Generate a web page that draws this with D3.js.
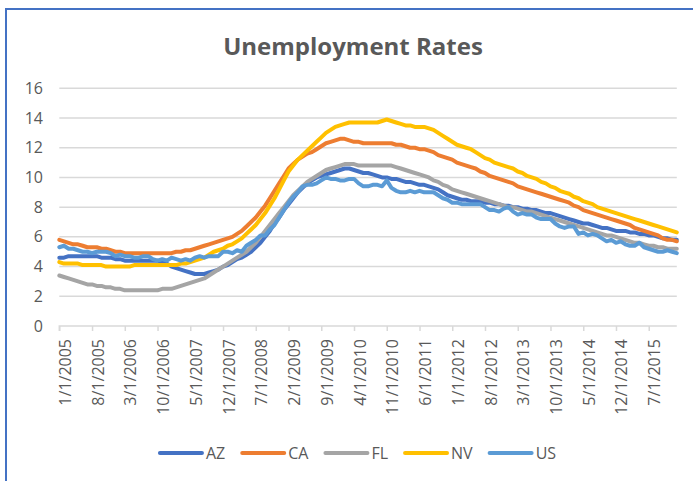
<!DOCTYPE html>
<html>
<head>
<meta charset="utf-8">
<script src="https://cdn.jsdelivr.net/npm/d3@7"></script>
<style>
  html, body { margin: 0; padding: 0; background: #fff; }
  svg text { font-family: "Open Sans", "Liberation Sans", sans-serif; fill: #595959; }
</style>
</head>
<body>
<svg id="chart"></svg>
<script>
// monthly rates, 1/2005 .. 1/2016
const seriesNames = ["AZ", "CA", "FL", "NV", "US"];
const seriesColors = ["#4472C4", "#ED7D31", "#A5A5A5", "#FFC000", "#5B9BD5"];

const az = [4.6,4.6,4.7,4.7,4.7,4.7,4.7,4.7,4.7,4.6,4.6,4.6,
  4.5,4.5,4.4,4.4,4.4,4.4,4.4,4.4,4.4,4.4,4.3,4.2,
  4.0,3.9,3.8,3.7,3.6,3.5,3.5,3.5,3.6,3.7,3.8,4.0,
  4.1,4.3,4.5,4.6,4.8,5.0,5.3,5.6,6.0,6.4,6.9,7.3,
  7.8,8.2,8.6,9.0,9.3,9.6,9.8,10.0,10.1,10.2,10.3,10.4,
  10.5,10.6,10.6,10.5,10.4,10.3,10.3,10.2,10.1,10.0,10.0,9.9,
  9.9,9.8,9.7,9.7,9.6,9.5,9.5,9.4,9.3,9.2,9.0,8.8,
  8.7,8.6,8.5,8.5,8.4,8.4,8.4,8.3,8.3,8.2,8.2,8.1,
  8.1,8.0,8.0,7.9,7.9,7.8,7.8,7.7,7.6,7.6,7.5,7.4,
  7.3,7.2,7.1,7.0,6.9,6.9,6.8,6.7,6.6,6.6,6.5,6.4,
  6.4,6.4,6.3,6.3,6.2,6.2,6.1,6.1,6.0,5.9,5.9,5.8,
  5.8];

const ca = [5.8,5.7,5.6,5.5,5.5,5.4,5.3,5.3,5.3,5.2,5.2,5.1,
  5.0,5.0,4.9,4.9,4.9,4.9,4.9,4.9,4.9,4.9,4.9,4.9,
  4.9,5.0,5.0,5.1,5.1,5.2,5.3,5.4,5.5,5.6,5.7,5.8,
  5.9,6.0,6.2,6.4,6.7,7.0,7.3,7.7,8.1,8.6,9.1,9.6,
  10.1,10.6,10.9,11.2,11.4,11.6,11.7,11.9,12.1,12.3,12.4,12.5,
  12.6,12.6,12.5,12.4,12.4,12.3,12.3,12.3,12.3,12.3,12.3,12.3,
  12.2,12.2,12.1,12.0,12.0,11.9,11.9,11.8,11.7,11.5,11.4,11.3,
  11.2,11.0,10.9,10.8,10.7,10.6,10.4,10.3,10.1,10.0,9.9,9.8,
  9.7,9.6,9.4,9.3,9.2,9.1,9.0,8.9,8.8,8.7,8.6,8.5,
  8.4,8.3,8.1,8.0,7.8,7.7,7.6,7.5,7.4,7.3,7.2,7.1,
  7.0,6.9,6.8,6.6,6.5,6.4,6.3,6.2,6.1,5.9,5.8,5.8,
  5.7];

const fl = [3.4,3.3,3.2,3.1,3.0,2.9,2.8,2.8,2.7,2.7,2.6,2.6,
  2.5,2.5,2.4,2.4,2.4,2.4,2.4,2.4,2.4,2.4,2.5,2.5,
  2.5,2.6,2.7,2.8,2.9,3.0,3.1,3.2,3.4,3.6,3.8,4.0,
  4.2,4.4,4.6,4.8,5.0,5.3,5.6,6.0,6.4,6.8,7.2,7.6,
  8.0,8.4,8.8,9.1,9.4,9.7,9.9,10.1,10.3,10.5,10.6,10.7,
  10.8,10.9,10.9,10.9,10.8,10.8,10.8,10.8,10.8,10.8,10.8,10.8,
  10.7,10.6,10.5,10.4,10.3,10.2,10.1,10.0,9.8,9.7,9.5,9.4,
  9.2,9.1,9.0,8.9,8.8,8.7,8.6,8.5,8.4,8.3,8.2,8.1,
  8.0,8.0,7.9,7.8,7.7,7.7,7.6,7.5,7.4,7.3,7.2,7.1,
  7.0,6.9,6.8,6.7,6.6,6.5,6.4,6.3,6.2,6.1,6.1,6.0,
  5.9,5.8,5.7,5.6,5.6,5.5,5.4,5.4,5.3,5.3,5.2,5.2,
  5.2];

const nv = [4.3,4.2,4.2,4.2,4.2,4.1,4.1,4.1,4.1,4.1,4.0,4.0,
  4.0,4.0,4.0,4.0,4.1,4.1,4.1,4.1,4.1,4.1,4.1,4.1,
  4.1,4.1,4.2,4.2,4.3,4.4,4.5,4.6,4.8,5.0,5.1,5.2,
  5.4,5.5,5.7,5.9,6.2,6.5,6.8,7.2,7.6,8.1,8.6,9.2,
  9.8,10.4,10.8,11.2,11.5,11.8,12.1,12.4,12.7,13.0,13.2,13.4,
  13.5,13.6,13.7,13.7,13.7,13.7,13.7,13.7,13.7,13.8,13.9,13.8,
  13.7,13.6,13.5,13.5,13.4,13.4,13.4,13.3,13.2,13.0,12.8,12.6,
  12.4,12.2,12.1,12.0,11.9,11.7,11.5,11.3,11.2,11.0,10.9,10.8,
  10.7,10.6,10.4,10.3,10.1,10.0,9.9,9.7,9.6,9.4,9.3,9.1,
  9.0,8.9,8.7,8.6,8.4,8.3,8.2,8.0,7.9,7.8,7.7,7.6,
  7.5,7.4,7.3,7.2,7.1,7.0,6.9,6.8,6.7,6.6,6.5,6.4,
  6.3];

const us = [5.3,5.4,5.2,5.2,5.1,5.0,5.0,4.9,5.0,5.0,5.0,4.9,
  4.7,4.8,4.7,4.7,4.6,4.6,4.7,4.7,4.5,4.4,4.5,4.4,
  4.6,4.5,4.4,4.5,4.4,4.6,4.7,4.6,4.7,4.7,4.7,5.0,
  5.0,4.9,5.1,5.0,5.4,5.6,5.8,6.1,6.1,6.5,6.8,7.3,
  7.8,8.3,8.7,9.0,9.4,9.5,9.5,9.6,9.8,10.0,9.9,9.9,
  9.8,9.8,9.9,9.9,9.6,9.4,9.4,9.5,9.5,9.4,9.8,9.3,
  9.1,9.0,9.0,9.1,9.0,9.1,9.0,9.0,9.0,8.8,8.6,8.5,
  8.3,8.3,8.2,8.2,8.2,8.2,8.2,8.0,7.8,7.8,7.7,7.9,
  8.0,7.7,7.5,7.6,7.5,7.5,7.3,7.2,7.2,7.2,6.9,6.7,
  6.6,6.7,6.7,6.2,6.3,6.1,6.2,6.1,5.9,5.7,5.8,5.6,
  5.7,5.5,5.4,5.4,5.6,5.3,5.2,5.1,5.0,5.0,5.1,5.0,
  4.9];

const tickLabels = ["1/1/2005","8/1/2005","3/1/2006","10/1/2006","5/1/2007","12/1/2007",
  "7/1/2008","2/1/2009","9/1/2009","4/1/2010","11/1/2010","6/1/2011","1/1/2012",
  "8/1/2012","3/1/2013","10/1/2013","5/1/2014","12/1/2014","7/1/2015"];
const yTicks = [0, 2, 4, 6, 8, 10, 12, 14, 16];

const allSeries = [az, ca, fl, nv, us];
const w = 693;
const h = 481;

// one category per month, starting 1/1/2005
const months = d3.timeMonth.range(new Date(2005, 0, 1), new Date(2016, 1, 1));
const monthIndex = d => (d.getFullYear() - 2005) * 12 + d.getMonth();
const parseTick = d3.timeParse("%-m/%-d/%Y");

const svg = d3.select("#chart")
    .attr("width", w)
    .attr("height", h);

// frame (only top and left edges are visible in the crop)
svg.append("path")
    .attr("d", `M6,${h} V9 H${w}`)
    .attr("fill", "none")
    .attr("stroke", "#4472C4")
    .attr("stroke-width", 2);

svg.append("text")
    .attr("x", 353)
    .attr("y", 55)
    .attr("text-anchor", "middle")
    .attr("font-size", 24)
    .attr("font-weight", 700)
    .text("Unemployment Rates");

const xScale = d3.scaleLinear()
    .domain([0, months.length - 1])
    .range([59.3, 676.8]);

const yScale = d3.scaleLinear()
    .domain([0, 16])
    .range([326, 88.3]);

// gridlines
svg.append("g")
    .selectAll("line")
    .data(yTicks.filter(t => t > 0))
    .enter()
    .append("line")
    .attr("x1", xScale.range()[0])
    .attr("x2", xScale.range()[1])
    .attr("y1", d => yScale(d))
    .attr("y2", d => yScale(d))
    .attr("stroke", "#D9D9D9")
    .attr("stroke-width", 1.5);

// y labels
const yAxis = d3.axisLeft(yScale)
    .tickValues(yTicks)
    .tickSize(0)
    .tickPadding(0);

svg.append("g")
    .attr("id", "y-axis")
    .attr("transform", "translate(43,0)")
    .call(yAxis)
    .call(g => g.select(".domain").remove())
    .selectAll("text")
    .attr("font-size", 16)
    .attr("font-family", null)
    .attr("fill", "#595959");

// x axis with rotated labels every 7 months
const tickIdx = tickLabels.map(s => monthIndex(parseTick(s)));
const xAxis = d3.axisBottom(xScale)
    .tickValues(tickIdx)
    .tickSize(5)
    .tickFormat((d, i) => tickLabels[i]);

const gx = svg.append("g")
    .attr("id", "x-axis")
    .attr("transform", `translate(0,${yScale(0)})`)
    .call(xAxis);

gx.select(".domain")
    .attr("d", `M${xScale.range()[0]},5V0H${xScale.range()[1]}`)
    .attr("stroke", "#D9D9D9")
    .attr("stroke-width", 1.5);
gx.selectAll(".tick line")
    .attr("stroke", "#D9D9D9")
    .attr("stroke-width", 1.5);
gx.selectAll(".tick text")
    .attr("font-size", 16)
    .attr("font-family", null)
    .attr("fill", "#595959")
    .attr("y", 0)
    .attr("dy", 0)
    .attr("transform", "translate(11,13) rotate(-90)")
    .style("text-anchor", "end");

// series lines
const line = d3.line()
    .x((d, i) => xScale(i))
    .y(d => yScale(d));

svg.append("g")
    .selectAll("path")
    .data(allSeries)
    .enter()
    .append("path")
    .attr("d", line)
    .attr("fill", "none")
    .attr("stroke", (d, i) => seriesColors[i])
    .attr("stroke-width", 4)
    .attr("stroke-linejoin", "round")
    .attr("stroke-linecap", "round");

// legend
const legend = svg.append("g").attr("id", "legend");
let lx = 0;
seriesNames.forEach((name, i) => {
    const item = legend.append("g").attr("transform", `translate(${lx},0)`);
    item.append("line")
        .attr("x1", 2).attr("x2", 44)
        .attr("y1", 0).attr("y2", 0)
        .attr("stroke", seriesColors[i])
        .attr("stroke-width", 4)
        .attr("stroke-linecap", "round");
    const t = item.append("text")
        .attr("x", 48)
        .attr("y", 6)
        .attr("font-size", 16)
        .text(name);
    lx += 48 + t.node().getComputedTextLength() + 15;
});
legend.attr("transform", `translate(${357 - (lx - 15) / 2},453)`);
</script>
</body>
</html>
